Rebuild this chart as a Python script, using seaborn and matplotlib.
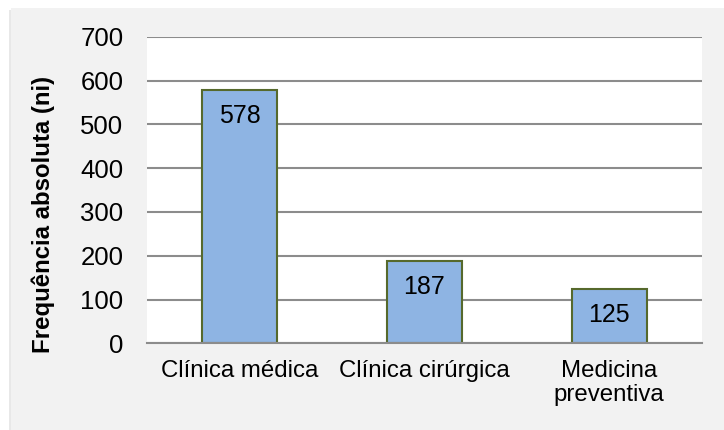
import matplotlib
matplotlib.use("Agg")
import matplotlib.pyplot as plt
from matplotlib.patches import Rectangle
import seaborn as sns
import pandas as pd

categories = ["Clínica médica", "Clínica cirúrgica", "Medicina\npreventiva"]
frequencies = [578, 187, 125]
y_ticks = [0, 100, 200, 300, 400, 500, 600, 700]
y_label = "Frequência absoluta (ni)"

sns.set_theme(style="white")
plt.rcParams["font.family"] = ["Liberation Sans", "DejaVu Sans"]

W, H = 724, 430
fig = plt.figure(figsize=(W / 100, H / 100), dpi=100, facecolor="white")

# chart frame: light grey panel with a faint shadow on the left
fig.patches.append(Rectangle((9 / W, 0), 1, 1 - 10 / H, transform=fig.transFigure,
                             facecolor="#e8e8e8", edgecolor="none", zorder=-11))
fig.patches.append(Rectangle((11 / W, 0), 1, 1 - 8 / H, transform=fig.transFigure,
                             facecolor="#f2f2f2", edgecolor="none", zorder=-10))

left, right, top, bottom = 147, 701.7, 36.7, 343.3
ax = fig.add_axes([left / W, (H - bottom) / H, (right - left) / W, (bottom - top) / H])
ax.set_facecolor("white")

df = pd.DataFrame({"categoria": categories, "ni": frequencies})
sns.barplot(data=df, x="categoria", y="ni", color="#8eb4e3", saturation=1,
            edgecolor="#56692c", linewidth=1.5, width=0.405, ax=ax, zorder=3)

ax.set_xlim(-0.5, len(categories) - 0.5)
ax.set_ylim(y_ticks[0], y_ticks[-1])
ax.set_yticks(y_ticks)
ax.set_yticklabels([str(t) for t in y_ticks], fontsize=18.5, color="black")
ax.tick_params(axis="y", length=0, pad=17)

# category labels at centres, tick marks at category boundaries
ax.set_xticks([i - 0.5 for i in range(len(categories) + 1)])
ax.set_xticklabels([""] * (len(categories) + 1))
ax.tick_params(axis="x", which="major", length=5, width=1.5, color="#8c8c8c", direction="out")
ax.set_xticks(range(len(categories)), minor=True)
ax.set_xticklabels(categories, minor=True, fontsize=17.3, color="black", linespacing=1.1)
ax.tick_params(axis="x", which="minor", length=0, pad=12)

ax.yaxis.grid(True, color="#8c8c8c", linewidth=1.5)
ax.xaxis.grid(False)
ax.set_axisbelow(True)
for s in ["left", "right", "top"]:
    ax.spines[s].set_visible(False)
ax.spines["bottom"].set_color("#8c8c8c")
ax.spines["bottom"].set_linewidth(1.5)
ax.spines["bottom"].set_zorder(4)

ax.set_xlabel("")
ax.set_ylabel(y_label, fontsize=17.3, fontweight="bold", color="black", va="center")
ax.yaxis.set_label_coords((43 - left) / (right - left), (bottom - 214) / (bottom - top))

for i, v in enumerate(frequencies):
    ax.annotate(str(v), (i, v), xytext=(0, -18.7), textcoords="offset points",
                ha="center", va="center", fontsize=18, color="black", zorder=5)

fig.savefig("out.png", dpi=100, facecolor=fig.get_facecolor())
